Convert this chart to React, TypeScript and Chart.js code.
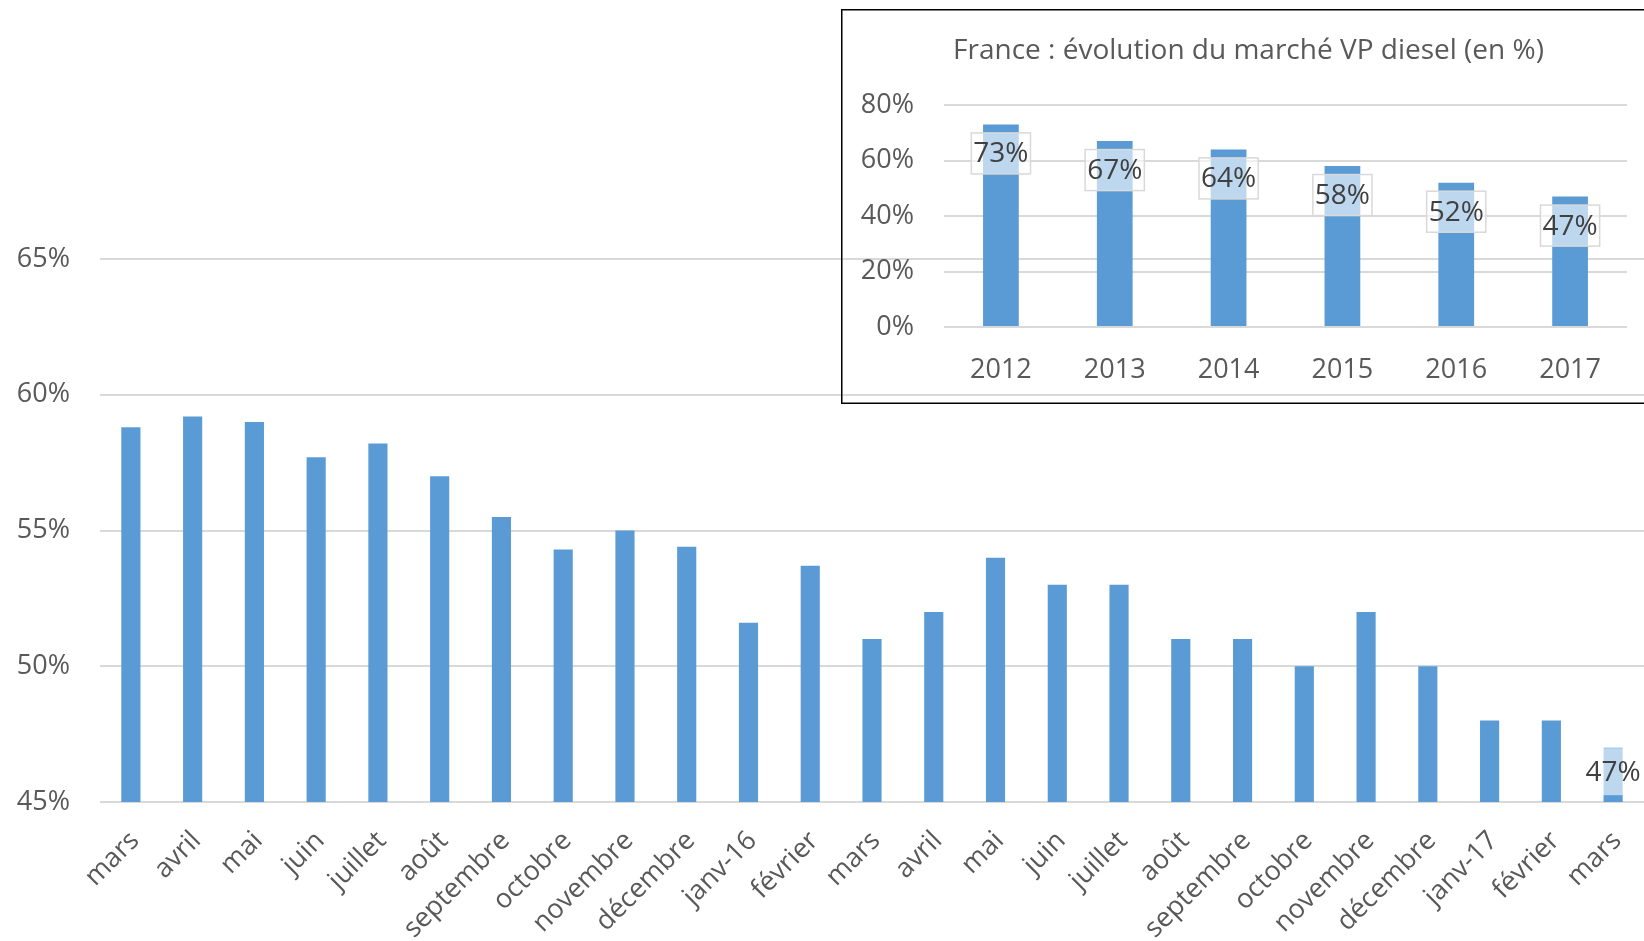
import React, { useEffect, useRef } from "react";
import { Chart, registerables } from "chart.js";

Chart.register(...registerables);

// ---------- Data ----------
const monthLabels = [
  "mars", "avril", "mai", "juin", "juillet", "août", "septembre", "octobre",
  "novembre", "décembre", "janv-16", "février", "mars", "avril", "mai", "juin",
  "juillet", "août", "septembre", "octobre", "novembre", "décembre", "janv-17",
  "février", "mars",
];
const monthlyDieselShare = [
  58.8, 59.2, 59.0, 57.7, 58.2, 57.0, 55.5, 54.3, 55.0, 54.4, 51.6, 53.7, 51.0,
  52.0, 54.0, 53.0, 53.0, 51.0, 51.0, 50.0, 52.0, 50.0, 48.0, 48.0, 47.0,
];
const monthlyLabelShown = [
  false, false, false, false, false, false, false, false, false, false, false,
  false, false, false, false, false, false, false, false, false, false, false,
  false, false, true,
];
const mainYTicks = [45, 50, 55, 60, 65];

const yearLabels = ["2012", "2013", "2014", "2015", "2016", "2017"];
const yearlyDieselShare = [73, 67, 64, 58, 52, 47];
const yearlyLabelShown = [true, true, true, true, true, true];
const insetYTicks = [0, 20, 40, 60, 80];
const insetTitle = "France : évolution du marché VP diesel (en %)";

// ---------- Styles ----------
const FONT = "'Open Sans', 'DejaVu Sans', sans-serif";
const BAR = "#5B9BD5";
const GRID = "#D9D9D9";
const TICK = "#595959";
const LABEL = "#404040";

const valueLabelPlugin = {
  id: "valueLabels",
  afterDatasetsDraw(chart: any, _args: any, opts: any) {
    const { ctx } = chart;
    const meta = chart.getDatasetMeta(0);
    const data = chart.data.datasets[0].data as number[];
    meta.data.forEach((bar: any, i: number) => {
      if (!opts.show || !opts.show[i]) return;
      const text = Math.round(data[i]) + "%";
      ctx.save();
      ctx.font = `${opts.fontSize}px ${FONT}`;
      const tw = ctx.measureText(text).width;
      const bw = tw + opts.padX * 2;
      const bh = opts.boxH;
      const cx = bar.x;
      const cy = bar.y + opts.offset;
      ctx.fillStyle = "rgba(255,255,255,0.6)";
      ctx.fillRect(cx - bw / 2, cy - bh / 2, bw, bh);
      if (opts.border) {
        ctx.strokeStyle = opts.border;
        ctx.lineWidth = 1.5;
        ctx.strokeRect(cx - bw / 2, cy - bh / 2, bw, bh);
      }
      ctx.fillStyle = LABEL;
      ctx.textAlign = "center";
      ctx.textBaseline = "middle";
      ctx.fillText(text, cx, cy + 1);
      ctx.restore();
    });
  },
};

const insetFramePlugin = {
  id: "insetFrame",
  afterDraw(chart: any, _args: any, opts: any) {
    if (!opts.enabled) return;
    const { ctx, width, height } = chart;
    ctx.save();
    ctx.strokeStyle = "#000";
    ctx.lineWidth = 1.5;
    ctx.beginPath();
    ctx.moveTo(width, 0.75);
    ctx.lineTo(0.75, 0.75);
    ctx.lineTo(0.75, height - 0.75);
    ctx.lineTo(width, height - 0.75);
    ctx.stroke();
    ctx.fillStyle = TICK;
    ctx.font = `${opts.titleSize}px ${FONT}`;
    ctx.textAlign = "center";
    ctx.textBaseline = "middle";
    ctx.fillText(opts.title, width / 2 + opts.titleDx, opts.titleY);
    ctx.restore();
  },
};

function makeTicks(values: number[]) {
  return (scale: any) => {
    scale.ticks = values.map((v) => ({ value: v }));
  };
}

export default function App() {
  const mainRef = useRef<HTMLCanvasElement | null>(null);
  const insetRef = useRef<HTMLCanvasElement | null>(null);

  useEffect(() => {
    document.body.style.margin = "0";
    const main = new Chart(mainRef.current as HTMLCanvasElement, {
      type: "bar",
      data: {
        labels: monthLabels,
        datasets: [
          {
            data: monthlyDieselShare,
            backgroundColor: BAR,
            barPercentage: 0.31,
            categoryPercentage: 1,
          },
        ],
      },
      plugins: [valueLabelPlugin],
      options: {
        animation: false,
        responsive: false,
        devicePixelRatio: 1,
        layout: { padding: { top: 259, left: 0, right: 0, bottom: 0 } },
        plugins: {
          legend: { display: false },
          tooltip: { enabled: false },
          valueLabels: { show: monthlyLabelShown, fontSize: 28, padX: 2, boxH: 47, offset: 24, border: null },
        } as any,
        scales: {
          x: {
            grid: { display: false },
            border: { display: false },
            ticks: {
              autoSkip: false,
              minRotation: 45,
              maxRotation: 45,
              padding: 15,
              labelOffset: 4,
              color: TICK,
              font: { family: FONT, size: 27 },
            },
            afterFit: (s: any) => {
              s.height = 139;
              s.paddingLeft = 0;
              s.paddingRight = 0;
            },
          },
          y: {
            min: 45,
            max: 65,
            afterBuildTicks: makeTicks(mainYTicks),
            grid: { color: GRID, lineWidth: 2, drawTicks: false },
            border: { display: false },
            ticks: {
              padding: 30,
              color: TICK,
              font: { family: FONT, size: 27 },
              callback: (v: any) => v + "%",
            },
            afterFit: (s: any) => {
              s.width = 100;
            },
          },
        },
      } as any,
    });

    const inset = new Chart(insetRef.current as HTMLCanvasElement, {
      type: "bar",
      data: {
        labels: yearLabels,
        datasets: [
          {
            data: yearlyDieselShare,
            backgroundColor: BAR,
            barPercentage: 0.314,
            categoryPercentage: 1,
          },
        ],
      },
      plugins: [valueLabelPlugin, insetFramePlugin],
      options: {
        animation: false,
        responsive: false,
        devicePixelRatio: 1,
        layout: { padding: { top: 96, left: 0, right: 17, bottom: 0 } },
        plugins: {
          legend: { display: false },
          tooltip: { enabled: false },
          valueLabels: { show: yearlyLabelShown, fontSize: 28, padX: 2, boxH: 41, offset: 29, border: GRID },
          insetFrame: { enabled: true, title: insetTitle, titleSize: 28, titleDx: 6, titleY: 42 },
        } as any,
        scales: {
          x: {
            grid: { display: false },
            border: { display: false },
            ticks: {
              padding: 19,
              color: TICK,
              font: { family: FONT, size: 27 },
            },
            afterFit: (s: any) => {
              s.height = 77;
              s.paddingLeft = 0;
              s.paddingRight = 0;
            },
          },
          y: {
            min: 0,
            max: 80,
            afterBuildTicks: makeTicks(insetYTicks),
            grid: { color: GRID, lineWidth: 2, drawTicks: false },
            border: { display: false },
            ticks: {
              padding: 30,
              color: TICK,
              font: { family: FONT, size: 27 },
              callback: (v: any) => v + "%",
            },
            afterFit: (s: any) => {
              s.width = 103;
            },
          },
        },
      } as any,
    });

    return () => {
      main.destroy();
      inset.destroy();
    };
  }, []);

  return (
    <div
      style={{
        position: "fixed",
        left: 0,
        top: 0,
        width: 1644,
        height: 941,
        overflow: "hidden",
        background: "#fff",
      }}
    >
      <canvas
        ref={mainRef}
        width={1644}
        height={941}
        style={{ position: "absolute", left: 0, top: 0, width: 1644, height: 941 }}
      />
      <canvas
        ref={insetRef}
        width={803}
        height={395}
        style={{ position: "absolute", left: 841, top: 9, width: 803, height: 395 }}
      />
    </div>
  );
}
